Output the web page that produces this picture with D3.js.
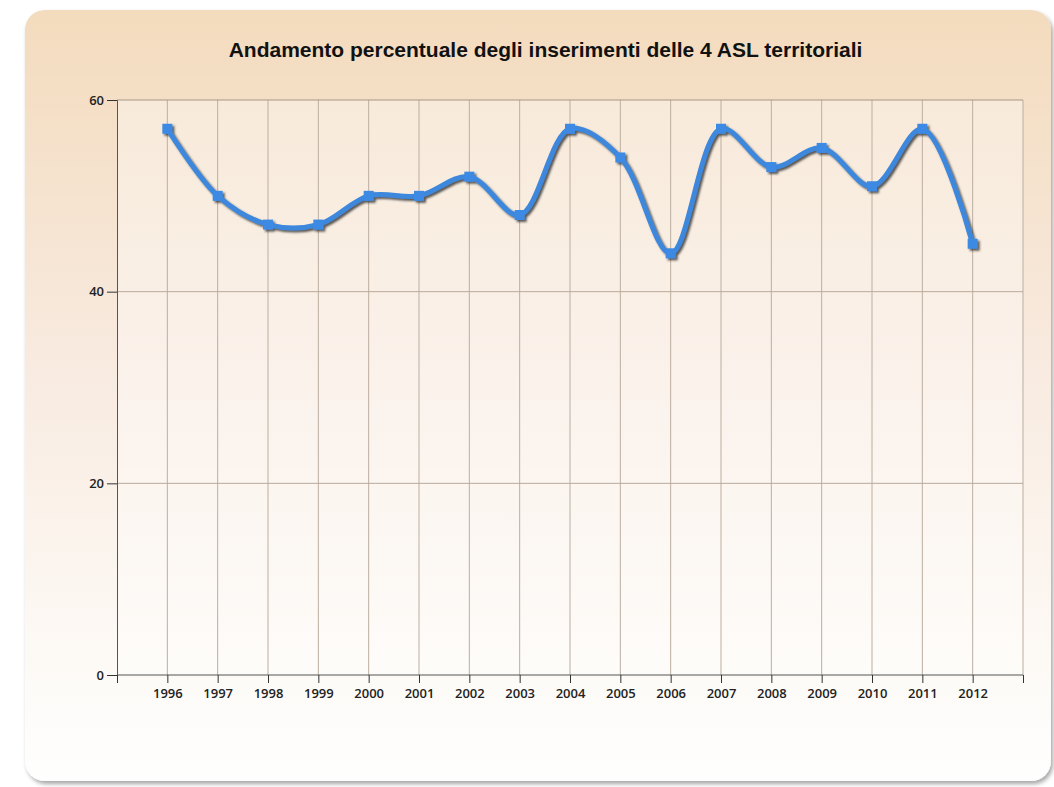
<!DOCTYPE html>
<html>
<head>
<meta charset="utf-8">
<script src="https://cdn.jsdelivr.net/npm/d3@7"></script>
<style>
  body { margin: 0; background: #ffffff; }
  svg { display: block; }
</style>
</head>
<body>
<div id="chart"></div>
<script>
// dati
const anni = ['1996','1997','1998','1999','2000','2001','2002','2003','2004','2005','2006','2007','2008','2009','2010','2011','2012'];
const percentuali = [57, 50, 47, 47, 50, 50, 52, 48, 57, 54, 44, 57, 53, 55, 51, 57, 45];
const yTicks = [0, 20, 40, 60];
const titolo = 'Andamento percentuale degli inserimenti delle 4 ASL territoriali';

const width = 1054, height = 787;
const margin = {left: 117, right: 31, top: 100, bottom: 112};

const svg = d3.select('#chart').append('svg')
    .attr('width', width)
    .attr('height', height);

const defs = svg.append('defs');
const grad = defs.append('linearGradient')
    .attr('id', 'bg').attr('x1', 0).attr('y1', 0).attr('x2', 0).attr('y2', 1);
grad.append('stop').attr('offset', '0%').attr('stop-color', '#f3dbbd');
grad.append('stop').attr('offset', '45%').attr('stop-color', '#f8eadf');
grad.append('stop').attr('offset', '85%').attr('stop-color', '#fdfaf6');
grad.append('stop').attr('offset', '100%').attr('stop-color', '#fefefe');

const shadow = defs.append('filter').attr('id', 'cardShadow')
    .attr('x', '-5%').attr('y', '-5%').attr('width', '110%').attr('height', '110%');
shadow.append('feDropShadow').attr('dx', 2).attr('dy', 3).attr('stdDeviation', 2)
    .attr('flood-color', '#000').attr('flood-opacity', 0.35);

const lineShadow = defs.append('filter').attr('id', 'lineShadow')
    .attr('x', '-5%').attr('y', '-20%').attr('width', '110%').attr('height', '140%');
lineShadow.append('feDropShadow').attr('dx', 2).attr('dy', 2).attr('stdDeviation', 1)
    .attr('flood-color', '#333').attr('flood-opacity', 0.8);

// card
svg.append('rect')
    .attr('x', 25).attr('y', 10)
    .attr('width', 1026).attr('height', 771)
    .attr('rx', 20).attr('ry', 20)
    .attr('fill', 'url(#bg)')
    .attr('filter', 'url(#cardShadow)');

// titolo
svg.append('text')
    .attr('x', 545.5).attr('y', 57)
    .attr('text-anchor', 'middle')
    .style('font-family', 'Liberation Sans, Arial, sans-serif')
    .style('font-weight', 'bold')
    .style('font-size', '21px')
    .style('fill', '#111')
    .text(titolo);

const plotW = width - margin.left - margin.right;
const plotH = height - margin.top - margin.bottom;

// una banda vuota a sinistra e a destra: anni agli indici 1..17, dominio 0..18
const x = d3.scaleLinear()
    .domain([0, anni.length + 1])
    .range([margin.left, margin.left + plotW]);

const y = d3.scaleLinear()
    .domain([0, 60])
    .range([margin.top + plotH, margin.top]);

const g = svg.append('g');

// area del grafico
g.append('rect')
    .attr('x', margin.left).attr('y', margin.top)
    .attr('width', plotW).attr('height', plotH)
    .attr('fill', '#ffffff').attr('fill-opacity', 0.35);

// griglia verticale
g.append('g').selectAll('line')
    .data(d3.range(1, anni.length + 2))
    .enter().append('line')
    .attr('x1', d => x(d)).attr('x2', d => x(d))
    .attr('y1', margin.top).attr('y2', margin.top + plotH)
    .attr('stroke', '#bcaea0').attr('stroke-width', 1);

// griglia orizzontale
g.append('g').selectAll('line')
    .data(yTicks.filter(d => d > 0))
    .enter().append('line')
    .attr('x1', margin.left).attr('x2', margin.left + plotW)
    .attr('y1', d => y(d)).attr('y2', d => y(d))
    .attr('stroke', d => d === 60 ? '#a89684' : '#b9aa9c').attr('stroke-width', 1);

const labelStyle = sel => sel
    .style('font-family', 'Open Sans, sans-serif')
    .style('font-weight', '600')
    .style('font-size', '13px')
    .style('fill', '#222');

// asse y
const yAxis = g.append('g')
    .attr('transform', `translate(${margin.left},0)`)
    .call(d3.axisLeft(y).tickValues(yTicks).tickSize(10).tickPadding(3));
yAxis.select('.domain').attr('stroke', '#555');
yAxis.selectAll('.tick line').attr('stroke', '#333');
yAxis.selectAll('text').call(labelStyle);

// asse x
const xAxis = g.append('g')
    .attr('transform', `translate(0,${margin.top + plotH})`)
    .call(d3.axisBottom(x)
        .tickValues(d3.range(0, anni.length + 2))
        .tickSize(8)
        .tickPadding(6)
        .tickFormat(d => (d >= 1 && d <= anni.length) ? anni[d - 1] : ''));
xAxis.select('.domain').attr('stroke', '#555').attr('d', `M${margin.left},0H${margin.left + plotW}`);
xAxis.selectAll('.tick line').attr('stroke', '#333');
xAxis.selectAll('text').call(labelStyle);

// linea
const punti = percentuali.map((v, i) => [x(i + 1), y(v)]);
const line = d3.line().curve(d3.curveCatmullRom.alpha(0.5));

const serie = g.append('g').attr('filter', 'url(#lineShadow)');
serie.append('path')
    .attr('d', line(punti))
    .attr('fill', 'none')
    .attr('stroke', '#3c88dc')
    .attr('stroke-width', 5)
    .attr('stroke-linejoin', 'round');

serie.selectAll('rect')
    .data(punti)
    .enter().append('rect')
    .attr('x', d => d[0] - 5).attr('y', d => d[1] - 5)
    .attr('width', 10).attr('height', 10)
    .attr('fill', '#3c8ae4');
</script>
</body>
</html>
